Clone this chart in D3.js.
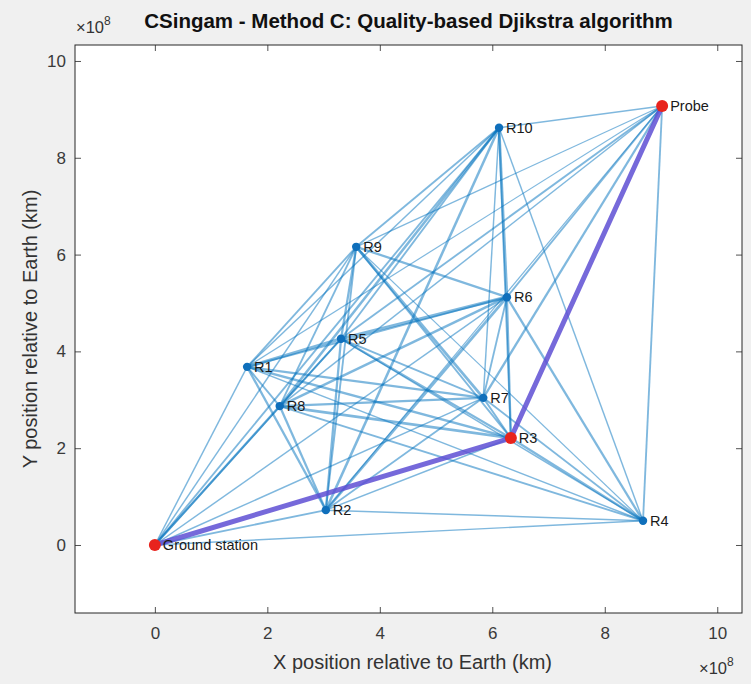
<!DOCTYPE html>
<html>
<head>
<meta charset="utf-8">
<script src="https://cdn.jsdelivr.net/npm/d3@7"></script>
<style>
  html, body { margin: 0; padding: 0; background: #f0f0f0; }
  svg { display: block; font-family: "Liberation Sans", Arial, sans-serif; }
</style>
</head>
<body>
<svg id="chart" width="751" height="684"></svg>
<script>
// ---------- data ----------
const nodeNames = ["Ground station", "R1", "R2", "R3", "R4", "R5", "R6", "R7", "R8", "R9", "R10", "Probe"];
const nodeX = [0, 1.64, 3.04, 6.33, 8.68, 3.31, 6.26, 5.84, 2.22, 3.58, 6.12, 9.02]; // ×1e8 km
const nodeY = [0, 3.68, 0.72, 2.21, 0.50, 4.26, 5.12, 3.04, 2.87, 6.16, 8.62, 9.07]; // ×1e8 km
const highlighted = ["Ground station", "R3", "Probe"];

const edgeFrom = [0,0,0,0,0,0,0,0,0,0, 1,1,1,1,1,1,1,1,1,1, 2,2,2,2,2,2,2,2,2, 3,3,3,3,3,3,3,3, 4,4,4,4,4,4,4, 5,5,5,5,5,5, 6,6,6,6,6, 7,7,7,7, 8,8,8, 9,9, 10];
const edgeTo   = [1,2,3,4,5,6,7,8,9,10, 2,3,4,5,6,7,8,9,10,11, 3,4,5,6,7,8,9,10,11, 4,5,6,7,8,9,10,11, 5,6,7,8,9,10,11, 6,7,8,9,10,11, 7,8,9,10,11, 8,9,10,11, 9,10,11, 10,11, 11];
const edgeQuality = [
  1.2,1.5,1.5,1.2,1.5,1.2,1.2,1.8,1.2,1.5,
  1.8,1.8,1.2,2.5,1.5,1.8,1.5,1.5,1.2,1.0,
  1.2,1.2,1.8,2.2,1.5,1.8,1.5,2.0,1.0,
  1.8,1.8,1.8,1.5,2.2,1.5,1.5,1.5,
  1.2,1.8,1.5,1.5,1.0,1.2,1.5,
  2.5,1.5,1.5,1.8,1.5,1.5,
  1.5,2.0,1.8,2.2,1.5,
  1.8,2.2,1.2,1.8,
  1.5,2.0,1.2,
  1.5,1.0,
  1.2
];

const xTicks = [0, 2, 4, 6, 8, 10];
const yTicks = [0, 2, 4, 6, 8, 10];

// ---------- layout ----------
const svg = d3.select("#chart");
const W = 751, H = 684;
const plot = { left: 75, right: 742, top: 45, bottom: 613 };

const x = d3.scaleLinear().domain([-1.42, 10.44]).range([plot.left, plot.right]);
const y = d3.scaleLinear().domain([-1.405, 10.33]).range([plot.bottom, plot.top]);
const widthScale = d3.scaleLinear().domain([1, 2.5]).range([1.2, 3.2]);

svg.append("rect").attr("width", W).attr("height", H).attr("fill", "#f0f0f0");
svg.append("rect")
  .attr("x", plot.left).attr("y", plot.top)
  .attr("width", plot.right - plot.left).attr("height", plot.bottom - plot.top)
  .attr("fill", "#ffffff");

const axisColor = "#262626";
const tickLen = 6;

// axes (MATLAB-style inward ticks, box on)
const gx = svg.append("g").attr("transform", `translate(0,${plot.bottom})`)
  .call(d3.axisBottom(x).tickValues(xTicks).tickSizeInner(-tickLen).tickSizeOuter(0).tickPadding(14).tickFormat(d3.format("d")));
const gxTop = svg.append("g").attr("transform", `translate(0,${plot.top})`)
  .call(d3.axisTop(x).tickValues(xTicks).tickSizeInner(-tickLen).tickSizeOuter(0).tickFormat(""));
const gy = svg.append("g").attr("transform", `translate(${plot.left},0)`)
  .call(d3.axisLeft(y).tickValues(yTicks).tickSizeInner(-tickLen).tickSizeOuter(0).tickPadding(9).tickFormat(d3.format("d")));
const gyRight = svg.append("g").attr("transform", `translate(${plot.right},0)`)
  .call(d3.axisRight(y).tickValues(yTicks).tickSizeInner(-tickLen).tickSizeOuter(0).tickFormat(""));

[gx, gxTop, gy, gyRight].forEach(g => {
  g.select(".domain").remove();
  g.selectAll("line").attr("stroke", axisColor).attr("stroke-width", 0.8);
  g.selectAll("text").attr("fill", "#3a3a3a").attr("font-size", 17).attr("font-family", "Liberation Sans, Arial, sans-serif");
});

// graph edges
const edgeLayer = svg.append("g");
const isPath = (a, b) => {
  const ia = highlighted.indexOf(nodeNames[a]), ib = highlighted.indexOf(nodeNames[b]);
  return ia >= 0 && ib >= 0 && Math.abs(ia - ib) === 1;
};
edgeFrom.forEach((a, i) => {
  const b = edgeTo[i];
  if (isPath(a, b)) return;
  edgeLayer.append("line")
    .attr("x1", x(nodeX[a])).attr("y1", y(nodeY[a]))
    .attr("x2", x(nodeX[b])).attr("y2", y(nodeY[b]))
    .attr("stroke", "#0072BD")
    .attr("stroke-opacity", 0.5)
    .attr("stroke-width", widthScale(edgeQuality[i]));
});
// highlighted path
for (let k = 0; k < highlighted.length - 1; k++) {
  const a = nodeNames.indexOf(highlighted[k]), b = nodeNames.indexOf(highlighted[k + 1]);
  edgeLayer.append("line")
    .attr("x1", x(nodeX[a])).attr("y1", y(nodeY[a]))
    .attr("x2", x(nodeX[b])).attr("y2", y(nodeY[b]))
    .attr("stroke", "#5e4fd3")
    .attr("stroke-opacity", 0.85)
    .attr("stroke-width", 5)
    .attr("stroke-linecap", "round");
}

// nodes
const nodeLayer = svg.append("g");
nodeNames.forEach((n, i) => {
  const hl = highlighted.includes(n);
  nodeLayer.append("circle")
    .attr("cx", x(nodeX[i])).attr("cy", y(nodeY[i]))
    .attr("r", hl ? 6 : 4.2)
    .attr("fill", hl ? "#e8231d" : "#0f6fbb");
  nodeLayer.append("text")
    .attr("x", x(nodeX[i]) + (hl ? 8 : 7)).attr("y", y(nodeY[i]) + 5)
    .attr("font-size", 14.5)
    .attr("fill", "#1a1a1a")
    .text(n);
});

// box
svg.append("rect")
  .attr("x", plot.left).attr("y", plot.top)
  .attr("width", plot.right - plot.left).attr("height", plot.bottom - plot.top)
  .attr("fill", "none").attr("stroke", axisColor).attr("stroke-width", 1);

// title
svg.append("text")
  .attr("x", (plot.left + plot.right) / 2).attr("y", 28)
  .attr("text-anchor", "middle").attr("font-size", 20.5).attr("font-weight", "bold")
  .attr("fill", "#111").text("CSingam - Method C: Quality-based Djikstra algorithm");

// axis labels
svg.append("text")
  .attr("x", (plot.left + plot.right) / 2 + 4).attr("y", 669)
  .attr("text-anchor", "middle").attr("font-size", 20).attr("fill", "#333")
  .text("X position relative to Earth (km)");
svg.append("text")
  .attr("transform", `translate(37,${(plot.top + plot.bottom) / 2}) rotate(-90)`)
  .attr("text-anchor", "middle").attr("font-size", 20).attr("fill", "#333")
  .text("Y position relative to Earth (km)");

// exponent labels
function expLabel(xp, yp) {
  const t = svg.append("text").attr("x", xp).attr("y", yp).attr("font-size", 16.5).attr("fill", "#333");
  t.append("tspan").text("\u00d710");
  t.append("tspan").attr("dy", -8).attr("font-size", 12).text("8");
}
expLabel(76, 33);
expLabel(699, 674);
</script>
</body>
</html>
